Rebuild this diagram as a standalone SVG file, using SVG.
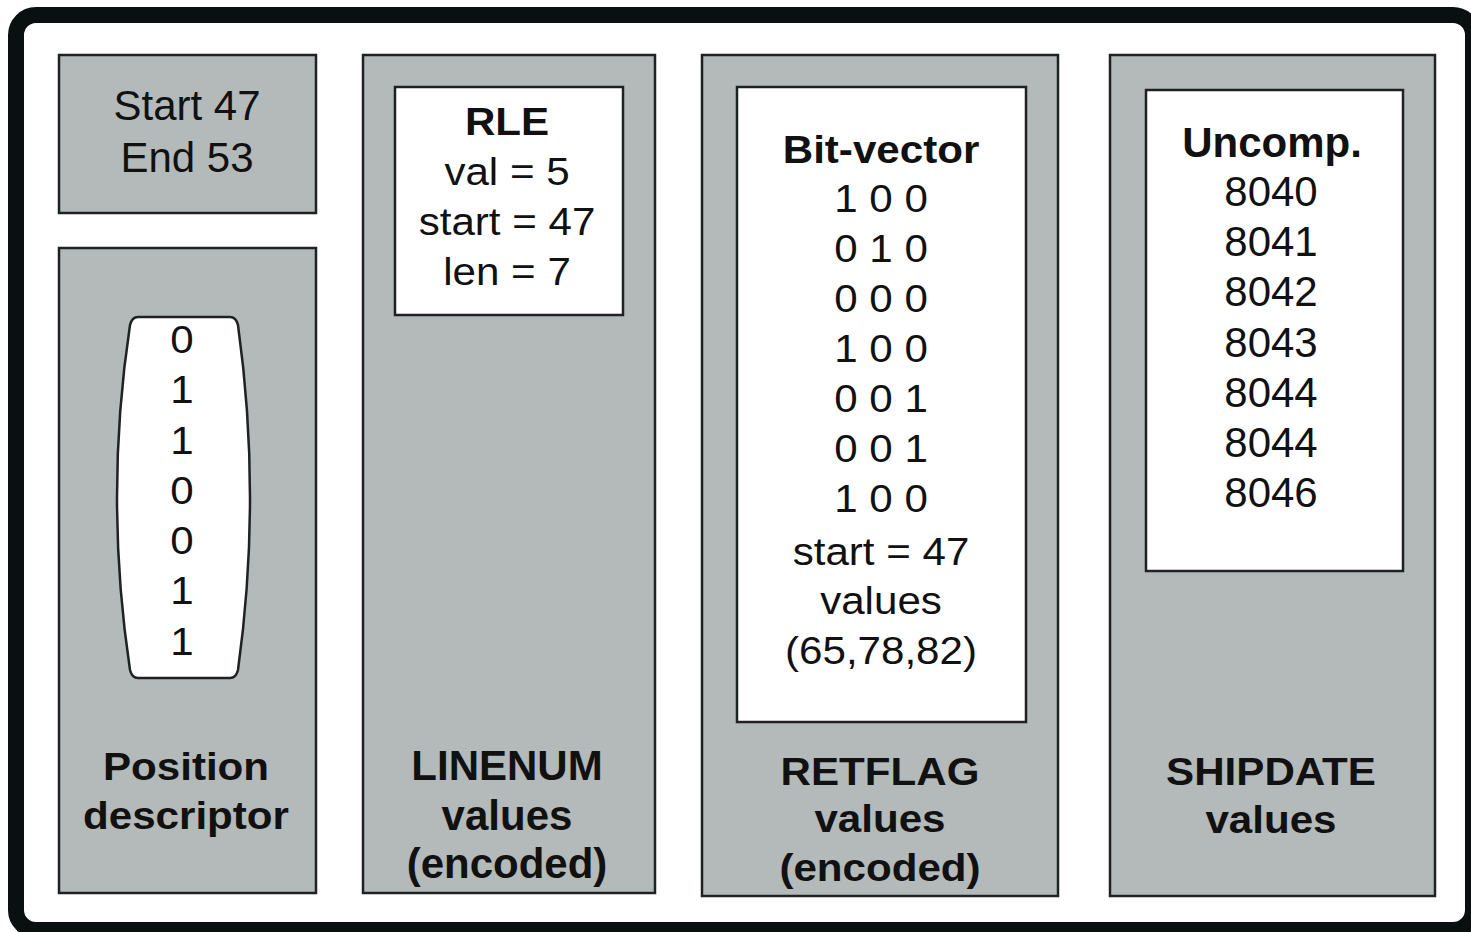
<svg xmlns="http://www.w3.org/2000/svg" width="1471" height="932" viewBox="0 0 1471 932">
  <style>
    .frame { fill: #ffffff; stroke: #0a0f10; stroke-width: 16; }
    .panel { fill: #b4b9b9; stroke: #1e2222; stroke-width: 2.5; }
    .box { fill: #ffffff; stroke: #1e2222; stroke-width: 2.5; }
    text { font-family: "Liberation Sans", Arial, Helvetica, sans-serif; fill: #111; text-anchor: middle; }
    .n { font-size: 42px; }
    .s { font-size: 39px; }
    .b { font-weight: bold; }
  </style>

  <!-- outer frame -->
  <rect class="frame" x="16" y="15" width="1457" height="915" rx="20" ry="20"/>

  <!-- start / end range -->
  <g id="range">
    <rect class="panel" x="59" y="55" width="257" height="158"/>
    <text class="n" x="187" y="120">Start 47</text>
    <text class="n" x="187" y="172">End 53</text>
  </g>

  <!-- position descriptor -->
  <g id="position-descriptor">
    <rect class="panel" x="59" y="248" width="257" height="645"/>
    <path class="box" d="M138,317 L230,317 Q236,317 238,325 Q262,497 238,670 Q236,678 230,678 L138,678 Q132,678 130,670 Q104,497 130,325 Q132,317 138,317 Z"/>
    <g transform="translate(182,0) scale(1.08,1)">
      <text class="s" x="0" y="353">0</text>
      <text class="s" x="0" y="403">1</text>
      <text class="s" x="0" y="454">1</text>
      <text class="s" x="0" y="504">0</text>
      <text class="s" x="0" y="554">0</text>
      <text class="s" x="0" y="604">1</text>
      <text class="s" x="0" y="655">1</text>
    </g>
    <g transform="translate(186,0) scale(1.08,1)">
      <text class="s b" x="0" y="780">Position</text>
      <text class="s b" x="0" y="829">descriptor</text>
    </g>
  </g>

  <!-- LINENUM column -->
  <g id="linenum">
    <rect class="panel" x="363" y="55" width="292" height="838"/>
    <rect class="box" x="395" y="87" width="228" height="228"/>
    <g transform="translate(507,0) scale(1.08,1)">
      <text class="s b" x="0" y="135">RLE</text>
      <text class="s" x="0" y="185">val = 5</text>
      <text class="s" x="0" y="235">start = 47</text>
      <text class="s" x="0" y="285">len = 7</text>
    </g>
    <text class="n b" x="507" y="780">LINENUM</text>
    <text class="n b" x="507" y="830">values</text>
    <text class="n b" x="507" y="878">(encoded)</text>
  </g>

  <!-- RETFLAG column -->
  <g id="retflag">
    <rect class="panel" x="702" y="55" width="356" height="841"/>
    <rect class="box" x="737" y="87" width="289" height="635"/>
    <g transform="translate(881,0) scale(1.08,1)">
      <text class="s b" x="0" y="163">Bit-vector</text>
      <text class="s" x="0" y="212">1 0 0</text>
      <text class="s" x="0" y="262">0 1 0</text>
      <text class="s" x="0" y="312">0 0 0</text>
      <text class="s" x="0" y="362">1 0 0</text>
      <text class="s" x="0" y="412">0 0 1</text>
      <text class="s" x="0" y="462">0 0 1</text>
      <text class="s" x="0" y="512">1 0 0</text>
      <text class="s" x="0" y="565">start = 47</text>
      <text class="s" x="0" y="614">values</text>
      <text class="s" x="0" y="664">(65,78,82)</text>
    </g>
    <g transform="translate(880,0) scale(1.08,1)">
      <text class="s b" x="0" y="785">RETFLAG</text>
      <text class="s b" x="0" y="832">values</text>
      <text class="s b" x="0" y="881">(encoded)</text>
    </g>
  </g>

  <!-- SHIPDATE column -->
  <g id="shipdate">
    <rect class="panel" x="1110" y="55" width="325" height="841"/>
    <rect class="box" x="1146" y="90" width="257" height="481"/>
    <text class="n b" x="1272" y="157">Uncomp.</text>
    <text class="n" x="1271" y="206">8040</text>
    <text class="n" x="1271" y="256">8041</text>
    <text class="n" x="1271" y="306">8042</text>
    <text class="n" x="1271" y="357">8043</text>
    <text class="n" x="1271" y="407">8044</text>
    <text class="n" x="1271" y="457">8044</text>
    <text class="n" x="1271" y="507">8046</text>
    <g transform="translate(1271,0) scale(1.08,1)">
      <text class="s b" x="0" y="785">SHIPDATE</text>
      <text class="s b" x="0" y="833">values</text>
    </g>
  </g>

  <!-- no connectors in this figure -->
  <g id="connectors"/>
</svg>
